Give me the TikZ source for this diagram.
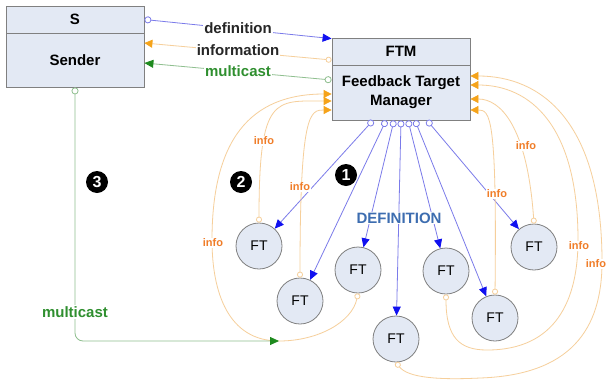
\documentclass[tikz,border=0pt]{standalone}
\usepackage{fontspec}
\setmainfont{Liberation Sans}
\usetikzlibrary{arrows.meta}
\definecolor{boxfill}{HTML}{E3E9F4}
\definecolor{boxline}{HTML}{808080}
\definecolor{blueline}{HTML}{7B7BEA}
\definecolor{bluetip}{HTML}{1010F0}
\definecolor{orangeline}{HTML}{F6CF9B}
\definecolor{orangetip}{HTML}{F5A31A}
\definecolor{infotext}{HTML}{F07D28}
\definecolor{greenline}{HTML}{8FBF8F}
\definecolor{greentip}{HTML}{1E8A1E}
\definecolor{greentext}{HTML}{2F8F2F}
\definecolor{deftext}{HTML}{3D6DB0}
\begin{document}
\begin{tikzpicture}[x=1pt,y=-1pt,
  box/.style={draw=boxline, fill=boxfill, minimum width=138pt, inner sep=0pt, line width=0.8pt,
    font=\fontsize{15}{19}\selectfont\bfseries, align=center},
  ftnode/.style={circle, draw=boxline, fill=boxfill, minimum size=46pt, inner sep=0pt, line width=0.8pt,
    font=\fontsize{14}{16}\selectfont},
  bluecon/.style={draw=blueline, line width=0.8pt,
    {Circle[open, length=7pt, width=7pt, fill=white, color=blueline]}-{Triangle[length=9pt, width=8pt, color=bluetip]}},
  orangecon/.style={draw=orangeline, line width=0.8pt,
    {Circle[open, length=6pt, width=6pt, fill=white, color=orangeline]}-{Triangle[length=8pt, width=8pt, color=orangetip]}},
  greencon/.style={draw=greenline, line width=0.8pt,
    {Circle[open, length=7pt, width=7pt, fill=white, color=greenline]}-{Triangle[length=9pt, width=8pt, color=greentip]}},
  lbl/.style={fill=white, inner sep=1pt, font=\fontsize{15}{17}\selectfont\bfseries},
  infolbl/.style={fill=white, inner sep=0.5pt, text=infotext, font=\fontsize{11}{13}\selectfont\bfseries},
  numdot/.style={circle, fill=black, text=white, minimum size=22pt, inner sep=0pt, font=\fontsize{16}{16}\selectfont\bfseries}
]
\useasboundingbox (0,0) rectangle (609,383);
\fill[white] (0,0) rectangle (609,383);

% boxes
\node[box, minimum height=27pt] (sH) at (75,19.5) {S};
\node[box, minimum height=54pt] (sB) at (75,60) {Sender};
\node[box, minimum height=27pt] (fH) at (401,51.5) {FTM};
\node[box, minimum height=55pt] (fB) at (401,92.5) {Feedback Target\\Manager};

% feedback targets
\node[ftnode] (ft1) at (259,246) {FT};
\node[ftnode] (ft2) at (300,301) {FT};
\node[ftnode] (ft3) at (358,270) {FT};
\node[ftnode] (ft4) at (396,339) {FT};
\node[ftnode] (ft5) at (446,271) {FT};
\node[ftnode] (ft6) at (495,318) {FT};
\node[ftnode] (ft7) at (534,247) {FT};

% sender <-> FTM
\draw[bluecon] (sH.east) -- ([yshift=-1pt]fH.north west);
\draw[orangecon] ([yshift=-8.5pt]fH.west) -- ([yshift=17pt]sB.east);
\draw[greencon] ([yshift=12.5pt]fB.west) -- ([yshift=-3pt]sB.east);
\node[lbl, text=black!85] (ldef) at (238,28) {definition};
\node[lbl, text=black!85] (linf) at (238,50) {information};
\node[lbl, text=greentext] (lmc) at (238,71) {multicast};

% definition arrows
\draw[bluecon] ([xshift=-28pt]fB.south) -- (ft1);
\draw[bluecon] ([xshift=-15pt]fB.south) -- (ft2);
\draw[bluecon] ([xshift=-7pt]fB.south) -- (ft3);
\draw[bluecon] (fB.south) -- (ft4);
\draw[bluecon] ([xshift=7pt]fB.south) -- (ft5);
\draw[bluecon] ([xshift=14pt]fB.south) -- (ft6);
\draw[bluecon] ([xshift=26pt]fB.south) -- (ft7);

% info curves, left side
\draw[orangecon] (ft1.north) .. controls (259,95) and (275,101) .. ([yshift=-8.5pt]fB.west);
\draw[orangecon] (ft2.north) .. controls (300,112) and (310,110) .. ([yshift=-17.5pt]fB.west);
\coordinate (mcEnd) at (279,341);
\draw[orangecon] (ft3.south) .. controls (352,322) and (318,341) .. (mcEnd)
  .. controls (228,341) and (212,292) .. (212,240)
  .. controls (212,140) and (250,94) .. ([yshift=-1.5pt]fB.west);

% info curves, right side
\draw[orangecon] (ft6.north) .. controls (497,115) and (490,110) .. ([yshift=-17.5pt]fB.east);
\draw[orangecon] (ft7.north) .. controls (527,125) and (500,99) .. ([yshift=-6.5pt]fB.east);
\draw[orangecon] (ft5.south) .. controls (446,338) and (460,350) .. (487,350)
  .. controls (556,350) and (578,300) .. (578,240)
  .. controls (578,125) and (530,85) .. ([yshift=7.5pt]fB.east);
\draw[orangecon] (ft4.south) .. controls (408,378) and (440,380) .. (480,378)
  .. controls (570,375) and (602,330) .. (602,262)
  .. controls (602,120) and (540,76) .. ([yshift=16.5pt]fB.east);

% info labels
\node[infolbl] (i1) at (264,141) {info};
\node[infolbl] (i2) at (300,187) {info};
\node[infolbl] (i3) at (213,243) {info};
\node[infolbl] (i4) at (526,146) {info};
\node[infolbl] (i5) at (497,194) {info};
\node[infolbl] (i6) at (579,246) {info};
\node[infolbl] (i7) at (596,264) {info};

% multicast to FTs
\draw[greencon, rounded corners=8pt] (sB.south) |- (mcEnd);
\node[lbl, text=greentext] (lmc2) at (75,312) {multicast};

% DEFINITION label and step numbers
\node[fill=white, inner sep=1pt, text=deftext, font=\fontsize{15}{17}\selectfont\bfseries] (ldefbig) at (399,218) {DEFINITION};
\node[numdot] (n1) at (346,175) {1};
\node[numdot] (n2) at (241,182) {2};
\node[numdot] (n3) at (97,182) {3};
\end{tikzpicture}
\end{document}
